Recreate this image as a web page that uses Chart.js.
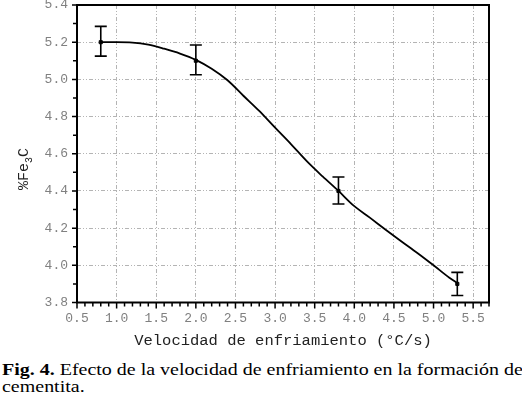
<!DOCTYPE html>
<html>
<head>
<meta charset="utf-8">
<script src="https://cdn.jsdelivr.net/npm/chart.js@4/dist/chart.umd.min.js"></script>
<style>
  html, body { margin: 0; padding: 0; background: #fff; }
  body { width: 522px; height: 398px; position: relative; overflow: hidden; }
  #wrap { position: absolute; left: 0; top: 0; width: 522px; height: 352px; }
  #caption {
    position: absolute; left: 2px; top: 361px; width: 440px;
    transform: scaleX(1.175); transform-origin: 0 0;
    font-family: "Liberation Serif", "Times New Roman", serif;
    font-size: 17px; line-height: 17px; color: #000;
  }
  #caption .l1 { text-align: justify; text-align-last: justify; white-space: nowrap; }
</style>
</head>
<body>
<div id="wrap"><canvas id="c"></canvas></div>
<div id="caption"><div class="l1"><b>Fig. 4.</b> Efecto de la velocidad de enfriamiento en la formación de</div><div>cementita.</div></div>
<script>
// ---- data ----
const curveX = [0.8, 1.0, 1.2, 1.4, 1.6, 1.8, 2.0, 2.2, 2.4, 2.6, 2.8, 3.0, 3.2, 3.4, 3.6, 3.8, 4.0, 4.2, 4.4, 4.6, 4.8, 5.0, 5.2, 5.3];
const curveY = [5.2, 5.2, 5.198, 5.187, 5.165, 5.139, 5.105, 5.057, 4.995, 4.912, 4.83, 4.74, 4.652, 4.56, 4.478, 4.4, 4.318, 4.255, 4.19, 4.127, 4.065, 4.0, 3.933, 3.905];
const pointX = [0.8, 2.0, 3.8, 5.3];
const pointY = [5.2, 5.1, 4.4, 3.9];
const errLow = [5.125, 5.025, 4.33, 3.838];
const errHigh = [5.285, 5.185, 4.475, 3.962];
const xTitle = "Velocidad de enfriamiento (°C/s)";
const yTitleParts = ["%Fe", "3", "C"];

const MONO = '"Liberation Mono", "DejaVu Sans Mono", monospace';

const decor = {
  id: 'decor',
  afterDatasetsDraw(chart) {
    const ctx = chart.ctx;
    const a = chart.chartArea;
    const xs = chart.scales.x, ys = chart.scales.y;
    ctx.save();
    // error bars
    ctx.strokeStyle = '#000';
    ctx.lineWidth = 1.6;
    for (let i = 0; i < pointX.length; i++) {
      const px = xs.getPixelForValue(pointX[i]);
      const y1 = ys.getPixelForValue(errLow[i]);
      const y2 = ys.getPixelForValue(errHigh[i]);
      ctx.beginPath();
      ctx.moveTo(px, y1); ctx.lineTo(px, y2);
      ctx.moveTo(px - 6, y1); ctx.lineTo(px + 6, y1);
      ctx.moveTo(px - 6, y2); ctx.lineTo(px + 6, y2);
      ctx.stroke();
    }
    // frame
    ctx.lineWidth = 2;
    ctx.strokeRect(a.left, a.top, a.right - a.left, a.bottom - a.top);
    // x ticks
    ctx.lineWidth = 1.5;
    ctx.beginPath();
    for (let k = 5; k <= 57; k++) {
      const v = k / 10;
      const px = xs.getPixelForValue(v);
      const len = (k % 5 === 0) ? 6 : 4;
      ctx.moveTo(px, a.bottom); ctx.lineTo(px, a.bottom + len);
    }
    // y ticks
    for (let k = 38; k <= 54; k++) {
      const v = k / 10;
      const py = ys.getPixelForValue(v);
      const len = (k % 2 === 0) ? 5 : 4;
      ctx.moveTo(a.left, py); ctx.lineTo(a.left - len, py);
    }
    ctx.stroke();
    // x title
    ctx.fillStyle = '#222';
    ctx.font = '15.5px ' + MONO;
    ctx.textAlign = 'center';
    ctx.textBaseline = 'middle';
    ctx.fillText(xTitle, (a.left + a.right) / 2, 341);
    // y title with subscript
    ctx.translate(28, 167);
    ctx.rotate(-Math.PI / 2);
    ctx.textAlign = 'left';
    ctx.textBaseline = 'alphabetic';
    let u = -23;
    ctx.font = '15px ' + MONO;
    ctx.fillText(yTitleParts[0], u, 0);
    u += ctx.measureText(yTitleParts[0]).width;
    ctx.font = '10px ' + MONO;
    ctx.fillText(yTitleParts[1], u, 4);
    u += ctx.measureText(yTitleParts[1]).width;
    ctx.font = '15px ' + MONO;
    ctx.fillText(yTitleParts[2], u, 0);
    ctx.restore();
  }
};

new Chart(document.getElementById('c'), {
  type: 'line',
  data: {
    datasets: [
      {
        data: curveX.map((x, i) => ({ x, y: curveY[i] })),
        borderColor: '#000', borderWidth: 1.8,
        pointRadius: 0, fill: false,
        cubicInterpolationMode: 'monotone'
      },
      {
        data: pointX.map((x, i) => ({ x, y: pointY[i] })),
        showLine: false,
        pointRadius: 2.2, pointBackgroundColor: '#000', pointBorderColor: '#000',
        pointStyle: 'rect'
      }
    ]
  },
  options: {
    responsive: true, maintainAspectRatio: false, animation: false,
    layout: { padding: { top: 4.5, right: 33, left: 0, bottom: 0 } },
    plugins: { legend: { display: false }, tooltip: { enabled: false } },
    scales: {
      x: {
        type: 'linear', min: 0.5, max: 5.7,
        afterFit: s => { s.height = 49.5; s.paddingLeft = 0; s.paddingRight = 0; },
        ticks: {
          stepSize: 0.5, includeBounds: false, padding: 8,
          callback: v => Number(v).toFixed(1),
          color: '#808080', font: { family: MONO, size: 13 }
        },
        grid: { color: '#b4b4b4', lineWidth: 1, drawTicks: false },
        border: { display: false, dash: [4, 2, 1, 2, 1, 2] }
      },
      y: {
        type: 'linear', min: 3.8, max: 5.4,
        afterFit: s => { s.width = 77; s.paddingTop = 0; s.paddingBottom = 0; },
        ticks: {
          stepSize: 0.2, includeBounds: false, padding: 9,
          callback: v => Number(v).toFixed(1),
          color: '#808080', font: { family: MONO, size: 13 }
        },
        grid: { color: '#b4b4b4', lineWidth: 1, drawTicks: false },
        border: { display: false, dash: [4, 2, 1, 2, 1, 2] }
      }
    }
  },
  plugins: [decor]
});
</script>
</body>
</html>
